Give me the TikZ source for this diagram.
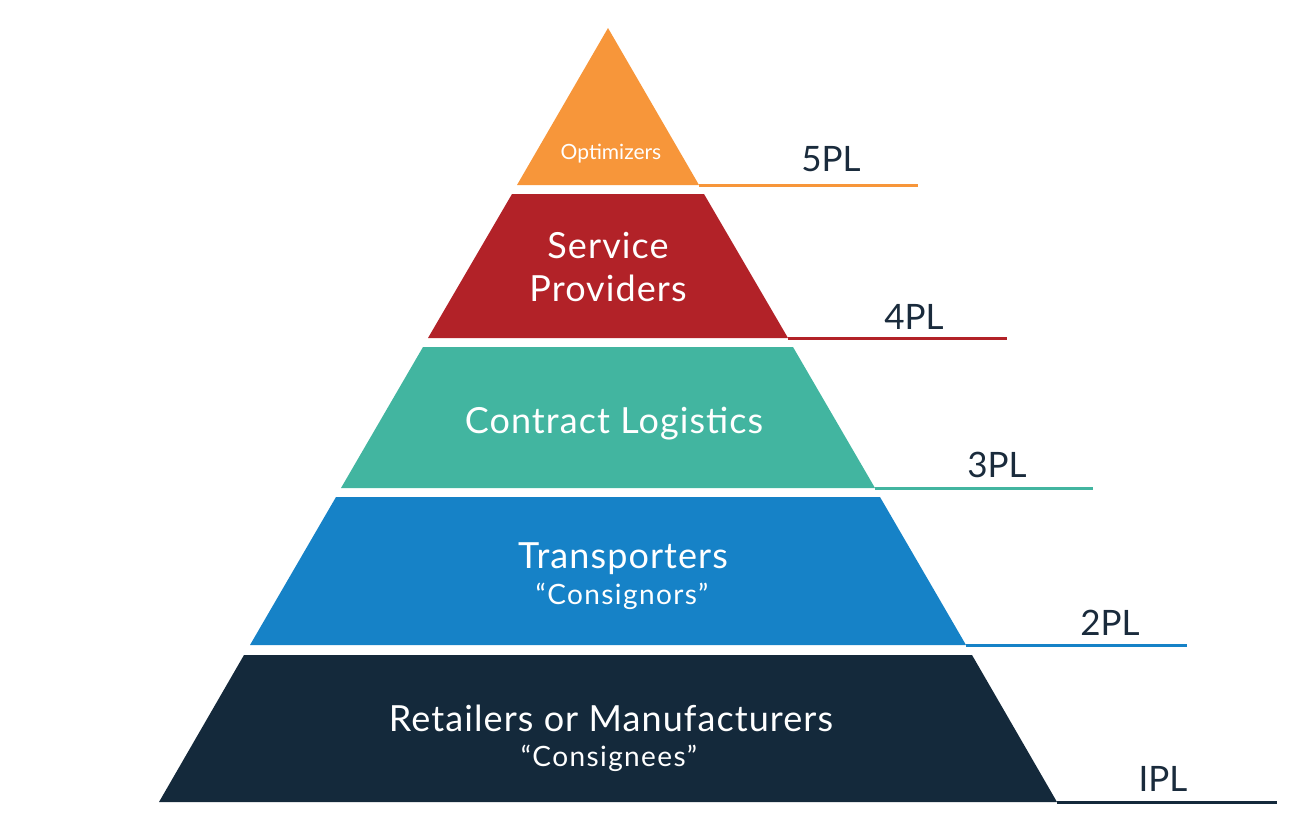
\documentclass[tikz,border=0pt]{standalone}
\usepackage{fontspec}
\setmainfont{Lato}
\newfontfamily\tierfont[LetterSpace=3]{Lato}
\newfontfamily\subfont[LetterSpace=5]{Lato}
\usetikzlibrary{positioning}

\definecolor{plOrange}{HTML}{F7963A}
\definecolor{plRed}{HTML}{B22228}
\definecolor{plTeal}{HTML}{42B5A0}
\definecolor{plBlue}{HTML}{1682C7}
\definecolor{plNavy}{HTML}{14293B}
\definecolor{plText}{HTML}{1A2B3C}

\begin{document}
\begin{tikzpicture}[x=0.5pt, y=-0.5pt]
        % stijlen
        \tikzstyle{tier} = [text=white, anchor=base, inner sep=0pt, font=\tierfont\fontsize{18}{21}\selectfont]
        \tikzstyle{subtier} = [text=white, anchor=base, inner sep=0pt, font=\subfont\fontsize{14}{16}\selectfont]
        \tikzstyle{level} = [text=plText, anchor=base, inner sep=0pt, font=\fontsize{17.5}{20}\selectfont]
        \tikzstyle{rule} = [line width=1.5pt]

        \useasboundingbox (0,0) rectangle (1294,816);

        % lagen van de piramide
        \fill[plOrange] (608,28) -- (699,185) -- (517,185) -- cycle;
        \fill[plRed] (512,194) -- (704,194) -- (788,338) -- (428,338) -- cycle;
        \fill[plTeal] (423,347) -- (793,347) -- (875,488) -- (341,488) -- cycle;
        \fill[plBlue] (336,497) -- (880,497) -- (966,645) -- (250,645) -- cycle;
        \fill[plNavy] (244,655) -- (972,655) -- (1057,802) -- (159,802) -- cycle;

        % hoekpunten en eindpunten
        \coordinate (c5) at (699,185); \coordinate (e5) at (918,185);
        \coordinate (c4) at (788,338); \coordinate (e4) at (1007,338);
        \coordinate (c3) at (875,488); \coordinate (e3) at (1093,488);
        \coordinate (c2) at (966,645); \coordinate (e2) at (1187,645);
        \coordinate (c1) at (1057,802); \coordinate (e1) at (1277,802);

        % teksten in de lagen
        \node (opt) [tier, font=\fontsize{10.5}{12}\selectfont] at (611,159) {Optimizers};
        \node (serv) [tier] at (608,258) {Service};
        \node (prov) [tier] at (608,301) {Providers};
        \node (contr) [tier] at (614,433) {Contract Logistics};
        \node (trans) [tier] at (623,568) {Transporters};
        \node (cnor) [subtier] at (622,604) {“Consignors”};
        \node (retail) [tier] at (611,731) {Retailers or Manufacturers};
        \node (cnee) [subtier] at (609,766) {“Consignees”};

        % niveaus
        \node (l5) [level] at (831,171) {5PL};
        \node (l4) [level] at (914,329) {4PL};
        \node (l3) [level] at (997,477) {3PL};
        \node (l2) [level] at (1110,635) {2PL};
        \node (l1) [level] at (1163,791) {IPL};

        % lijnen
        \draw [rule, plOrange] (c5) -- (e5);
        \draw [rule, plRed] (c4) -- (e4);
        \draw [rule, plTeal] (c3) -- (e3);
        \draw [rule, plBlue] (c2) -- (e2);
        \draw [rule, plNavy] (c1) -- (e1);

    \end{tikzpicture}
\end{document}
